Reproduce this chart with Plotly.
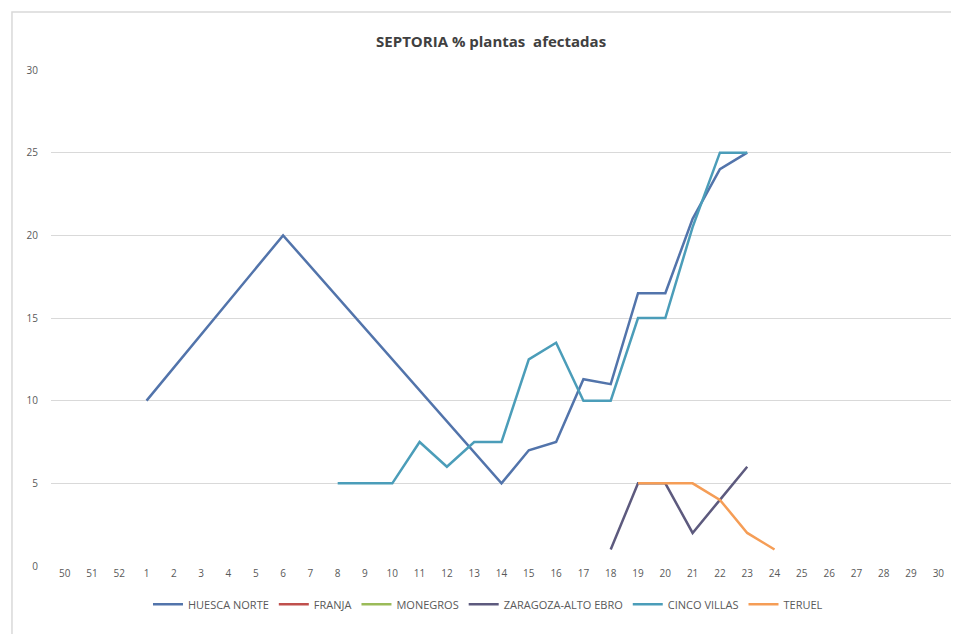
import plotly.graph_objects as go

weeks = ["50", "51", "52"] + [str(i) for i in range(1, 31)]

def series(d):
    return [d.get(w) for w in weeks]

huesca_norte = {"1": 10, "6": 20, "14": 5, "15": 7, "16": 7.5, "17": 11.3, "18": 11,
                "19": 16.5, "20": 16.5, "21": 21, "22": 24, "23": 25}
franja = {}
monegros = {}
zaragoza = {"18": 1, "19": 5, "20": 5, "21": 2, "22": 4, "23": 6}
cinco_villas = {"8": 5, "9": 5, "10": 5, "11": 7.5, "12": 6, "13": 7.5, "14": 7.5,
                "15": 12.5, "16": 13.5, "17": 10, "18": 10, "19": 15, "20": 15,
                "21": 20.5, "22": 25, "23": 25}
teruel = {"19": 5, "20": 5, "21": 5, "22": 4, "23": 2, "24": 1}

names = ["HUESCA NORTE", "FRANJA", "MONEGROS", "ZARAGOZA-ALTO EBRO", "CINCO VILLAS", "TERUEL"]
data = [huesca_norte, franja, monegros, zaragoza, cinco_villas, teruel]
colors = ["#5274ab", "#c0504d", "#9bbb59", "#5d5a7e", "#4b9db9", "#f59d56"]

fig = go.Figure()
for n, d, c in zip(names, data, colors):
    y = series(d)
    fig.add_trace(go.Scatter(x=weeks, y=y, name=n, mode="lines", connectgaps=True,
                             line=dict(color=c, width=2.5)))

W, H = 951, 626
fig.update_layout(
    width=W, height=H,
    paper_bgcolor="white", plot_bgcolor="white",
    margin=dict(l=43, r=7, t=62, b=68),
    title=dict(text="SEPTORIA % plantas  afectadas", x=0.508, xanchor="center",
               y=1 - 34 / H, yanchor="middle",
               font=dict(family="Open Sans", size=15, color="#404040", weight="bold")),
    font=dict(family="Open Sans", size=10, color="#595959"),
    xaxis=dict(type="category", categoryorder="array", categoryarray=weeks,
               range=[-0.5, len(weeks) - 0.5], showgrid=False, zeroline=False,
               showline=False, ticks="", tickfont=dict(size=10, color="#595959")),
    yaxis=dict(range=[0, 30], dtick=5, showgrid=True, gridcolor="#d9d9d9", gridwidth=1,
               zeroline=False, showline=False, ticks="", ticklabelstandoff=12,
               tickfont=dict(size=10, color="#595959")),
    legend=dict(orientation="h", x=0.485, xanchor="center", y=-0.048, yanchor="top",
                font=dict(size=11, color="#595959"), itemwidth=30),
    showlegend=True,
    shapes=[dict(type="rect", xref="paper", yref="paper", x0=-0.0433, x1=1.02,
                 y0=-0.25, y1=1.117, line=dict(color="#d9d9d9", width=1.5),
                 fillcolor="rgba(0,0,0,0)", layer="below")],
)

fig.write_html("out.html")
